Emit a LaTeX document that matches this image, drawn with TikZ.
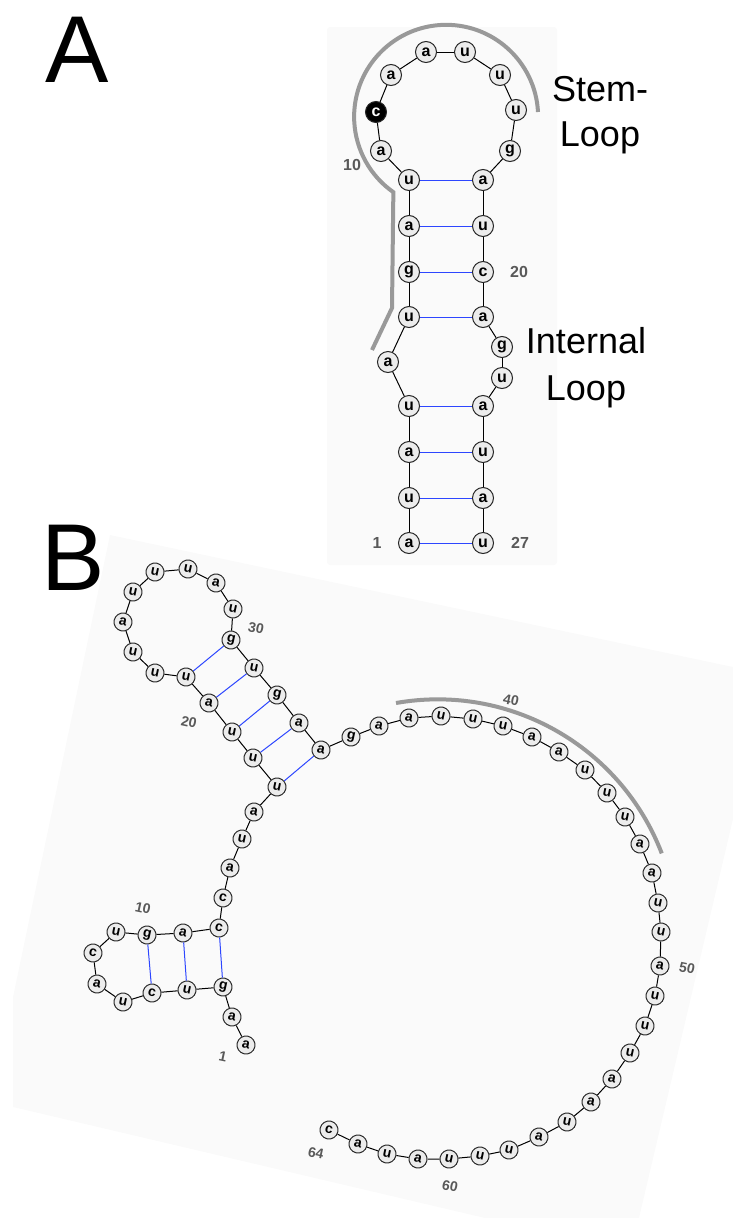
\documentclass[tikz,border=0pt]{standalone}
\usepackage{fontspec}
\setmainfont{Liberation Sans}

\definecolor{panelbg}{RGB}{250,250,250}
\definecolor{nucfill}{RGB}{236,236,236}
\definecolor{pairblue}{RGB}{45,70,255}

\begin{document}
\begin{tikzpicture}[x=1pt, y=-1pt,
nuc/.style={circle, draw=black!85, fill=nucfill, line width=1pt, inner sep=0pt,
    minimum size=21pt, font=\bfseries\fontsize{16}{16}\selectfont},
nucb/.style={nuc, minimum size=18pt, rotate=-12, font=\bfseries\fontsize{14}{14}\selectfont},
bond/.style={draw=black, line width=1pt},
pair/.style={draw=pairblue, line width=1pt},
region/.style={draw=black!40, line width=4pt},
num/.style={text=black!65, font=\bfseries\fontsize{16}{16}\selectfont},
numb/.style={num, rotate=-12, font=\bfseries\fontsize{14}{14}\selectfont},
big/.style={anchor=base, font=\fontsize{36}{36}\selectfont},
panel/.style={anchor=base west, inner sep=0pt, font=\fontsize{95}{95}\selectfont},
]

\useasboundingbox (0,0) rectangle (733,1218);

% panel backgrounds
\fill[panelbg, rounded corners=3pt] (327,27) rectangle (557,565);
\fill[panelbg] (110,535) -- (733,667) -- (733,819) -- (639,1218) -- (485,1218)
    -- (13,1107) -- (13,997) -- cycle;

\node[panel] (panA) at (45,82) {A};
\node[panel] (panB) at (41,590) {B};

% A: hairpin
\draw[region] (538,112) arc[start angle=3, end angle=235, radius=92pt] -- (392,308) -- (372,350);

\foreach \i/\b/\x/\y in {1/a/409/543, 2/u/409/498, 3/a/409/452, 4/u/409/406, 5/a/388/362,
    6/u/409/317, 7/g/409/272, 8/a/409/226, 9/u/409/180, 10/a/381/151, 12/a/391/75,
    13/a/426/52, 14/u/465/52, 15/u/500/75, 16/u/516/110, 17/g/510/151, 18/a/483/180,
    19/u/483/226, 20/c/483/272, 21/a/483/317, 22/g/502/347, 23/u/502/378, 24/a/483/406,
    25/u/483/452, 26/a/483/498, 27/u/483/543}
  \node[nuc] (a\i) at (\x,\y) {\b};
\node[nuc, fill=black, text=white] (a11) at (376,112) {c};

\foreach \i [count=\j from 2] in {1,...,26}
  \draw[bond] (a\i) -- (a\j);
\foreach \i/\j in {1/27, 2/26, 3/25, 4/24, 6/21, 7/20, 8/19, 9/18}
  \draw[pair] (a\i) -- (a\j);

\node[num] (na1) at (377,543) {1};
\node[num] (na10) at (352,165) {10};
\node[num] (na20) at (519,272) {20};
\node[num] (na27) at (520,543) {27};

\node[big] (stem) at (600,101) {Stem-};
\node[big] (stemloop) at (600,146) {Loop};
\node[big] (internal) at (586,353) {Internal};
\node[big] (intloop) at (586,400) {Loop};

% B: full sequence
\draw[region] (396,703) arc[start angle=100, end angle=21, radius=240pt];

\foreach \i/\b/\x/\y in {1/a/246/1045, 2/a/232/1017, 3/g/223/987, 4/u/187/990, 5/c/152/993,
    6/u/123/1002, 7/a/97/984, 8/c/93/953, 9/u/116/932, 10/g/147/935, 11/a/183/933,
    12/c/219/928, 13/c/223/898, 14/a/230/868, 15/u/242/839, 16/a/254/812, 17/u/277/787,
    18/u/253/758, 19/u/232/732, 20/a/209/703, 21/u/186/677, 22/u/155/673, 23/u/133/652,
    24/a/123/622, 25/u/133/592, 26/u/155/572, 27/u/188/569, 28/a/216/583, 29/u/233/609,
    30/g/231/640, 31/u/254/668, 32/g/277/695, 33/a/299/723, 34/a/321/750, 35/g/351/737,
    36/a/379/726, 37/a/409/718, 38/u/441/716, 39/u/473/719, 40/u/503/726, 41/a/532/737,
    42/a/559/752, 43/u/585/770, 44/u/607/793, 45/u/625/817, 46/a/640/844, 47/a/652/873,
    48/u/658/903, 49/u/661/932, 50/a/660/966, 51/u/655/996, 52/u/645/1026, 53/u/630/1053,
    54/a/612/1079, 55/a/591/1102, 56/u/567/1122, 57/a/539/1137, 58/u/509/1150,
    59/u/480/1156, 60/u/449/1159, 61/a/418/1159, 62/u/387/1154, 63/a/358/1144, 64/c/329/1130}
  \node[nucb] (b\i) at (\x,\y) {\b};

\foreach \i [count=\j from 2] in {1,...,63}
  \draw[bond] (b\i) -- (b\j);
\foreach \i/\j in {10/5, 11/4, 12/3, 30/21, 31/20, 32/19, 33/18, 34/17}
  \draw[pair] (b\i) -- (b\j);

\node[numb] (nb1) at (223,1057) {1};
\node[numb] (nb10) at (143,908) {10};
\node[numb] (nb20) at (189,722) {20};
\node[numb] (nb30) at (256,628) {30};
\node[numb] (nb40) at (511,700) {40};
\node[numb] (nb50) at (687,968) {50};
\node[numb] (nb60) at (450,1186) {60};
\node[numb] (nb64) at (316,1153) {64};

\end{tikzpicture}
\end{document}
